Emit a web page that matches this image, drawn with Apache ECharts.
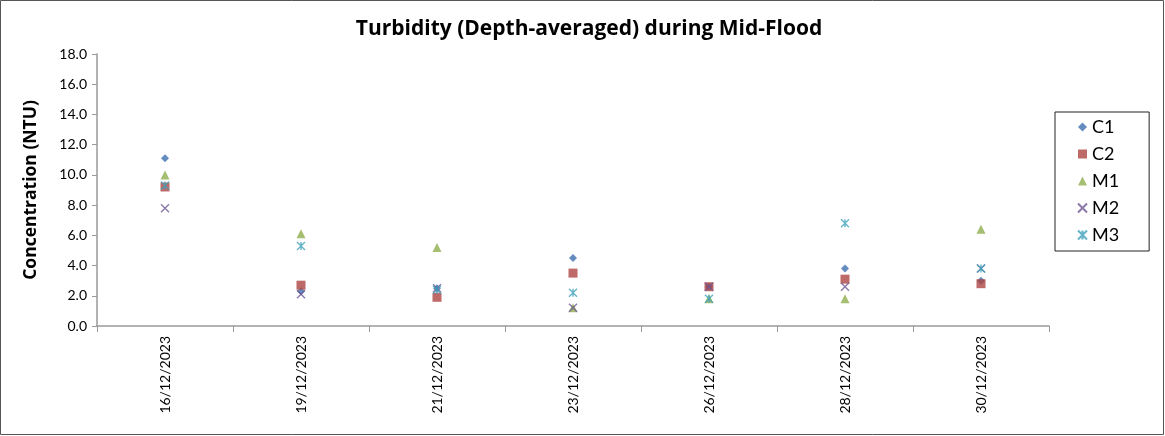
<!DOCTYPE html>
<html><head><meta charset="utf-8">
<script src="https://cdn.jsdelivr.net/npm/echarts@6/dist/echarts.min.js"></script>
<style>html,body{margin:0;padding:0;background:#fff}#c{width:1165px;height:436px}</style>
</head><body><div id="c"></div>
<script>
const categories = ['16/12/2023','19/12/2023','21/12/2023','23/12/2023','26/12/2023','28/12/2023','30/12/2023'];
const C1 = [11.1, 2.3, 2.5, 4.5, 2.6, 3.8, 3.0];
const C2 = [9.2, 2.7, 1.9, 3.5, 2.6, 3.1, 2.8];
const M1 = [10.0, 6.1, 5.2, 1.2, 1.8, 1.8, 6.4];
const M2 = [7.8, 2.1, 2.5, 1.2, 2.6, 2.6, 3.8];
const M3 = [9.3, 5.3, 2.4, 2.2, 1.8, 6.8, 3.8];
const yTicks = [0, 2, 4, 6, 8, 10, 12, 14, 16, 18];

const FONT = 'Lato, "Open Sans", sans-serif';
const BFONT = '"Open Sans", sans-serif';
const xPath = 'path://M0,0L10,10M10,0L0,10';
const starPath = 'path://M0,0L10,10M10,0L0,10M5,0L5,10';
const chart = echarts.init(document.getElementById('c'));
function sym(name, data, symbol, size, color, stroke) {
  const s = {name, type: 'scatter', data, symbol, symbolSize: size};
  if (stroke) s.itemStyle = {color: 'rgba(0,0,0,0)', borderColor: color, borderWidth: 1.4};
  else s.itemStyle = {color};
  return s;
}
chart.setOption({
  animation: false,
  title: {text: 'Turbidity (Depth-averaged) during Mid-Flood', left: 584, top: 14, textAlign: 'center',
    textStyle: {fontFamily: BFONT, fontSize: 21, fontWeight: 'bold', color: '#000'}},
  grid: {left: 97, right: 116, top: 54, bottom: 110},
  legend: {orient: 'vertical', left: 1055, top: 112, width: 93, height: 143,
    padding: [6, 30, 7, 22], itemGap: 9, itemWidth: 9, itemHeight: 9,
    borderColor: '#222', borderWidth: 1,
    textStyle: {fontFamily: FONT, fontSize: 18, color: '#000'},
    data: ['C1','C2','M1','M2','M3']},
  xAxis: {type: 'category', data: categories, boundaryGap: true,
    axisLine: {lineStyle: {color: '#999', width: 1.5}},
    axisTick: {show: true, length: 6, lineStyle: {color: '#999'}, alignWithLabel: false},
    axisLabel: {rotate: 90, fontFamily: FONT, fontSize: 14, color: '#000', margin: 10}},
  yAxis: {type: 'value', min: 0, max: 18, interval: 2,
    name: 'Concentration (NTU)', nameLocation: 'middle', nameGap: 57,
    nameTextStyle: {fontFamily: BFONT, fontSize: 17.5, fontWeight: 'bold', color: '#000'},
    axisLine: {show: true, lineStyle: {color: '#999', width: 1.5}},
    axisTick: {show: true, inside: false, length: 5, lineStyle: {color: '#999'}},
    splitLine: {show: false},
    axisLabel: {fontFamily: FONT, fontSize: 14, color: '#000', margin: 10,
      formatter: v => yTicks.includes(v) ? v.toFixed(1) : ''}},
  series: [
    sym('C1', C1, 'diamond', 8, '#3F6FAE'),
    sym('C2', C2, 'rect', 9, '#AC4542'),
    sym('M1', M1, 'triangle', 9, '#8EAE4D'),
    sym('M2', M2, xPath, 8, '#6E5593', true),
    sym('M3', M3, starPath, 8, '#3FA0BA', true)
  ],
  graphic: [{type: 'rect', shape: {x: 0.5, y: 0.5, width: 1163, height: 434},
    style: {fill: 'none', stroke: '#555', lineWidth: 1}}]
});
</script></body></html>
